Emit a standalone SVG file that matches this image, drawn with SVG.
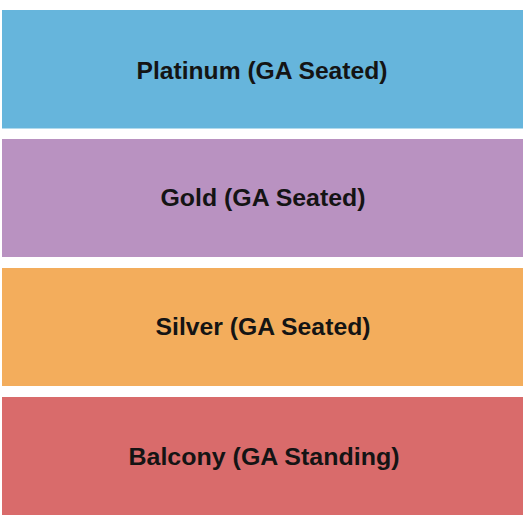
<svg xmlns="http://www.w3.org/2000/svg" width="525" height="525" viewBox="0 0 525 525">
<style>
.lbl{font-family:"Liberation Sans",Arial,sans-serif;font-weight:bold;font-size:23.5px;fill:#141414;text-anchor:middle}
</style>
<rect width="525" height="525" fill="#ffffff"/>
<g id="platinum">
<rect x="2" y="10" width="521" height="118.5" fill="#66b5dc"/>
<text class="lbl" x="262" y="78.5" textLength="251" lengthAdjust="spacingAndGlyphs">Platinum (GA Seated)</text>
</g>
<g id="gold">
<rect x="2" y="139" width="521" height="118" fill="#b992c1"/>
<text class="lbl" x="263" y="205.5" textLength="205" lengthAdjust="spacingAndGlyphs">Gold (GA Seated)</text>
</g>
<g id="silver">
<rect x="2" y="268" width="521" height="118" fill="#f3ad5c"/>
<text class="lbl" x="263" y="334.5" textLength="215" lengthAdjust="spacingAndGlyphs">Silver (GA Seated)</text>
</g>
<g id="balcony">
<rect x="2" y="397" width="521" height="118" fill="#d96b6b"/>
<text class="lbl" x="264" y="464.5" textLength="271" lengthAdjust="spacingAndGlyphs">Balcony (GA Standing)</text>
</g>
<g id="connectors"/>
</svg>
